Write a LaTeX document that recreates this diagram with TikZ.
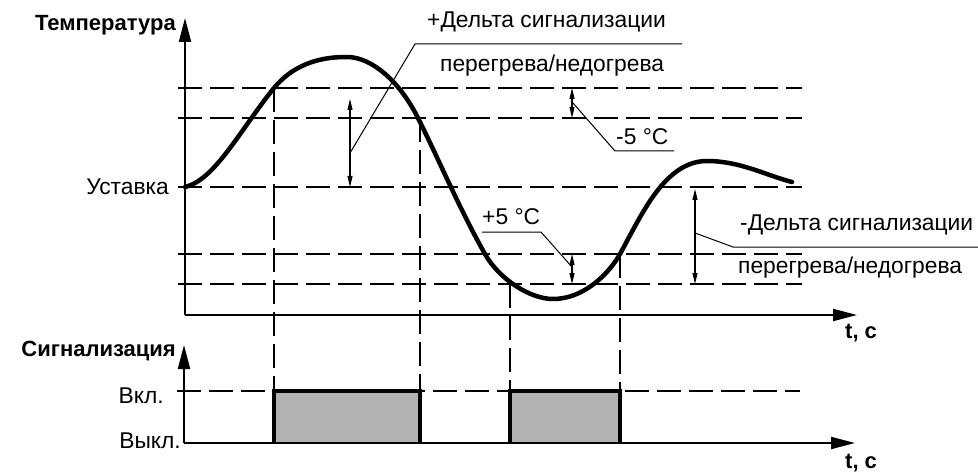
\documentclass[tikz,border=0pt]{standalone}
\usepackage{fontspec}
\setmainfont{Liberation Sans}
\usetikzlibrary{arrows.meta}
\begin{document}
\begin{tikzpicture}[x=1pt,y=-1pt,
  lbl/.style={font=\fontsize{22.8}{26}\selectfont, inner sep=0pt},
  blbl/.style={font=\fontsize{22}{26}\selectfont\bfseries, inner sep=0pt},
  axisline/.style={line width=2pt, -{Triangle[length=24pt,width=12pt]}},
  gridline/.style={line width=1.3pt, dash pattern=on 24pt off 8pt},
  tempcurve/.style={line width=4.5pt, line join=round, line cap=round},
  dimarrow/.style={line width=1.2pt, {Triangle[length=11pt,width=5pt]}-{Triangle[length=11pt,width=5pt]}},
  leader/.style={line width=1pt},
  pulsefill/.style={fill=black!30, draw=none},
  pulseedge/.style={line width=3.5pt, line join=miter}
]
\useasboundingbox (0,0) rectangle (978,476);

% horizontal dashed levels
\draw[gridline] (178,88) -- (802,88);
\draw[gridline] (178,118) -- (802,118);
\draw[gridline] (178,187) -- (802,187);
\draw[gridline] (178,254) -- (802,254);
\draw[gridline] (178,284) -- (802,284);
\draw[gridline] (177,391) -- (800,391);
% vertical dashed
\draw[gridline] (274,88) -- (274,391);
\draw[gridline] (420,118) -- (420,391);
\draw[gridline] (510,284) -- (510,391);
\draw[gridline] (620,254) -- (620,391);

% pulses
\fill[pulsefill] (274,391) rectangle (420,443);
\fill[pulsefill] (510,391) rectangle (620,443);
\draw[pulseedge] (274,443) -- (274,391) -- (420,391) -- (420,443);
\draw[pulseedge] (510,443) -- (510,391) -- (620,391) -- (620,443);

% temperature curve
\draw[tempcurve] (185,187)
  .. controls (215,180) and (240,130) .. (274,88)
  .. controls (298,59) and (330,57) .. (347,57)
  .. controls (372,57) and (400,82) .. (418,118)
  .. controls (440,162) and (460,210) .. (485,254)
  .. controls (499,279) and (530,299) .. (553,299)
  .. controls (585,299) and (610,272) .. (620,254)
  .. controls (642,214) and (665,161) .. (707,161)
  .. controls (740,161) and (765,175) .. (792,182);

% axes
\draw[axisline] (185,315) -- (185,18);
\draw[axisline] (185,315) -- (857,315);
\draw[axisline] (184,443) -- (184,345);
\draw[axisline] (184,443) -- (855,443);

% dimension arrows
\draw[dimarrow] (350,99) -- (350,187);
\draw[dimarrow] (572,88) -- (572,118);
\draw[dimarrow] (572,254) -- (572,284);
\draw[dimarrow] (695,189) -- (695,284);

% leaders
\coordinate (l1a) at (350,153);
\coordinate (l1b) at (415,44);
\coordinate (l1c) at (682,44);
\draw[leader] (l1a) -- (l1b) -- (l1c);
\coordinate (l2a) at (573,103);
\coordinate (l2b) at (615,151);
\coordinate (l2c) at (674,151);
\draw[leader] (l2a) -- (l2b) -- (l2c);
\coordinate (l3a) at (572,267);
\coordinate (l3b) at (541,232);
\coordinate (l3c) at (482,232);
\draw[leader] (l3a) -- (l3b) -- (l3c);
\coordinate (l4a) at (695,233);
\coordinate (l4b) at (733,247);
\coordinate (l4c) at (978,247);
\draw[leader] (l4a) -- (l4b) -- (l4c);

% labels
\node[blbl, anchor=base east] (ttemp) at (176,31) {Температура};
\node[lbl, anchor=base east] (tset) at (169,195) {Уставка};
\node[blbl, anchor=base east] (tsig) at (176,356) {Сигнализация};
\node[lbl, anchor=base east] (ton) at (164,403) {Вкл.};
\node[lbl, anchor=base east] (toff) at (181,448) {Выкл.};
\node[blbl, anchor=base west] (tt1) at (845,338) {t, c};
\node[blbl, anchor=base west] (tt2) at (845,468) {t, c};
\node[lbl, anchor=base west] (td1a) at (427,28) {+Дельта сигнализации};
\node[lbl, anchor=base west] (td1b) at (440,72) {перегрева/недогрева};
\node[lbl, anchor=base west] (tm5) at (616,145) {-5 °C};
\node[lbl, anchor=base west] (tp5) at (482,225) {+5 °C};
\node[lbl, anchor=base west] (td2a) at (740,230) {-Дельта сигнализации};
\node[lbl, anchor=base west] (td2b) at (738,273) {перегрева/недогрева};
\end{tikzpicture}
\end{document}
